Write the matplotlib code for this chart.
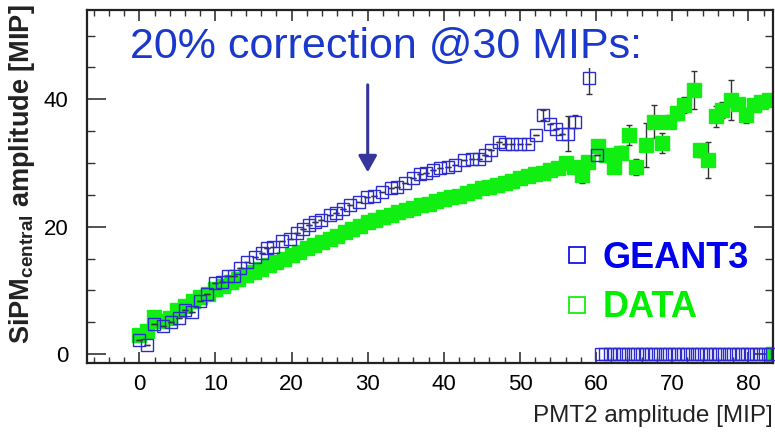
import matplotlib.pyplot as plt
from matplotlib.lines import Line2D
from matplotlib.ticker import MultipleLocator

plt.rcParams['font.family'] = ['Liberation Sans', 'DejaVu Sans']
plt.rcParams['mathtext.fontset'] = 'custom'
plt.rcParams['mathtext.rm'] = 'Liberation Sans'
plt.rcParams['mathtext.bf'] = 'Liberation Sans:bold'

# GEANT3 simulation (open blue squares)
geant_x = [-0.1, 1.0, 1.9, 3.1, 4.1, 5.2, 6.0, 6.9, 8.0, 8.9, 10.0, 10.8, 11.7, 12.5,
           13.2, 14.1, 15.2, 16.1, 16.8, 17.6, 18.7, 19.8, 20.7, 21.5, 22.3, 23.1, 23.9,
           25.0, 25.9, 26.8, 27.7, 28.8, 29.9, 30.8, 31.9, 33.0, 33.8, 34.9, 36.0, 36.9,
           37.7, 38.6, 39.5, 40.6, 41.5, 42.6, 43.7, 44.6, 45.4, 46.2, 47.2, 48.0, 49.0,
           50.0, 51.0, 52.1, 53.0, 53.9, 54.8, 55.5, 56.3, 57.2, 59.1, 60.1]
geant_y = [2.2, 1.5, 4.7, 4.4, 5.1, 5.6, 7.0, 6.6, 8.3, 9.4, 11.2, 11.4, 12.3, 12.2,
           13.6, 14.4, 15.3, 15.9, 16.7, 16.8, 17.8, 18.1, 19.0, 19.6, 20.2, 20.7, 21.1,
           21.8, 22.1, 22.8, 23.4, 23.9, 24.7, 24.8, 25.5, 26.0, 26.3, 26.8, 27.6, 28.2,
           28.4, 28.9, 29.2, 29.4, 29.7, 30.5, 30.6, 30.7, 31.3, 32.0, 33.3, 33.0, 33.0,
           33.0, 33.0, 34.4, 37.5, 36.2, 35.4, 34.6, 34.6, 36.5, 43.3, 31.2]
geant_err = [0] * 56 + [0.8, 0, 0, 0, 2.7, 1.0, 2.5, 0]

# empty GEANT3 bins drawn at zero
geant_empty_x = [60.6, 61.2, 61.8, 62.4, 63.0, 63.6, 64.2, 64.8, 65.4, 66.0, 66.6, 67.2,
                 67.8, 68.4, 69.0, 69.6, 70.2, 70.8, 71.4, 72.0, 72.6, 73.2, 73.8, 74.4,
                 75.0, 75.6, 76.2, 76.8, 77.4, 78.0, 78.6, 79.2, 79.8, 80.4, 81.0, 81.6,
                 82.2, 82.8]
geant_empty_y = [0] * len(geant_empty_x)

# measured data (filled green squares)
data_x = [0.0, 1.0, 1.9, 3.0, 4.0, 5.0, 6.0, 7.0, 8.0, 9.0, 10.0, 11.0, 12.0, 13.0, 14.0,
          15.0, 16.0, 17.0, 18.0, 19.0, 20.0, 21.0, 22.0, 23.0, 24.0, 25.0, 26.0, 27.0,
          28.0, 29.0, 30.0, 31.0, 32.0, 33.0, 34.0, 35.0, 36.0, 37.0, 38.0, 39.0, 40.0,
          41.0, 42.0, 43.0, 44.0, 45.0, 46.0, 47.0, 48.0, 49.0, 50.0, 51.0, 52.0, 53.0,
          54.0, 55.0, 56.0, 57.1, 58.1, 59.0, 60.2, 61.3, 62.3, 63.3, 64.3, 65.3, 66.5,
          67.6, 68.6, 69.6, 70.6, 71.6, 72.8, 73.7, 74.7, 75.7, 76.6, 77.7, 78.7, 79.7,
          80.7, 81.7, 82.7, 83.2]
data_y = [3.0, 3.6, 5.9, 5.2, 5.6, 7.0, 7.6, 8.4, 8.9, 9.5, 10.2, 10.7, 11.3, 11.8, 12.4,
          12.9, 13.4, 14.0, 14.5, 15.0, 15.6, 16.1, 16.6, 17.1, 17.6, 18.1, 18.6, 19.1,
          19.6, 20.1, 20.7, 21.1, 21.5, 21.9, 22.3, 22.7, 23.0, 23.4, 23.6, 24.0, 24.3,
          24.6, 24.9, 25.3, 25.6, 26.0, 26.3, 26.6, 26.9, 27.2, 27.6, 27.9, 28.3, 28.5,
          28.9, 29.2, 30.0, 29.4, 28.1, 30.2, 32.6, 31.3, 29.4, 31.6, 34.4, 29.4, 32.8,
          36.5, 33.1, 36.5, 37.8, 39.1, 41.4, 32.0, 30.5, 37.3, 38.3, 39.9, 39.3, 37.5,
          39.1, 39.6, 39.9, 0.0]
data_err = [0] * 56 + [0.5, 0.6, 1.2, 0.8, 1.0, 0.8, 0.9, 1.0, 1.6, 1.3, 3.5, 2.6, 1.6,
                       1.0, 1.0, 1.2, 3.0, 1.0, 2.8, 1.6, 1.2, 3.2, 0.8, 1.2, 0.6, 0.5,
                       0.5, 0]

blue = '#2b2bd0'
green = '#11ee11'

fig = plt.figure(figsize=(7.75, 4.38), dpi=100)
ax = fig.add_axes([0.112, 0.171, 0.885, 0.806])

ax.errorbar(data_x, data_y, yerr=data_err, fmt='s', ms=9.5, color=green, mec=green,
            ecolor='#333333', elinewidth=1, capsize=2, zorder=2)
ax.errorbar(geant_x, geant_y, yerr=geant_err, fmt='s', ms=8.5, mfc='none', mec=blue,
            mew=1.0, ecolor='#333333', elinewidth=1, capsize=2, zorder=3)
ax.plot(geant_empty_x, geant_empty_y, 's', ms=8.5, mfc='none', mec=blue, mew=1.0,
        clip_on=False, zorder=3)

ax.set_xlim(-6.9, 83.2)
ax.set_ylim(-1.4, 54)
ax.xaxis.set_major_locator(MultipleLocator(10))
ax.xaxis.set_minor_locator(MultipleLocator(2))
ax.yaxis.set_major_locator(MultipleLocator(20))
ax.yaxis.set_minor_locator(MultipleLocator(5))
ax.tick_params(which='both', direction='in', top=True, right=True, labelsize=16,
               color='#333333')
ax.tick_params(axis='x', which='major', length=8, width=1.2, pad=8)
ax.tick_params(axis='x', which='minor', length=4.5, width=1.0)
ax.tick_params(axis='y', which='major', length=14, width=1.2, pad=13)
ax.tick_params(axis='y', which='minor', length=6, width=1.0)
for s in ax.spines.values():
    s.set_linewidth(1.6)
    s.set_color('#222222')

ax.set_xlabel('PMT2 amplitude [MIP]', fontsize=17.5, color='#222222')
ax.xaxis.set_label_coords(1.0, -0.12)
ax.xaxis.label.set_horizontalalignment('right')
ax.set_ylabel(r'SiPM$_{\mathbf{central}}$ amplitude [MIP]', fontsize=19.5,
              fontweight='bold', color='#222222')
ax.yaxis.set_label_coords(-0.072, 0.535)

fig.text(130 / 775, 1 - 47 / 438, '20% correction @30 MIPs:', fontsize=31,
         color='#1a38cc', va='center', ha='left',
         bbox=dict(facecolor='white', edgecolor='none', pad=1))
ax.annotate('', xy=(30, 28.1), xytext=(30, 42.7),
            arrowprops=dict(arrowstyle='-|>,head_length=0.5,head_width=0.28',
                            color='#35359a', lw=2.2, mutation_scale=20))

handles = [Line2D([], [], ls='none', marker='s', ms=11, mfc='none', mec='#0000ee', mew=1.2),
           Line2D([], [], ls='none', marker='s', ms=11, mfc='none', mec='#00ee00', mew=1.2)]
leg = ax.legend(handles, ['GEANT3', 'DATA'], loc='center left',
                bbox_to_anchor=(530 / 775, 1 - 283 / 438), bbox_transform=fig.transFigure,
                frameon=False, handlelength=0.8, handletextpad=0.3, labelspacing=0.4,
                prop=dict(size=26, weight='bold'), labelcolor=['#0000ee', '#00ee00'])

fig.savefig('out.png', dpi=100)
